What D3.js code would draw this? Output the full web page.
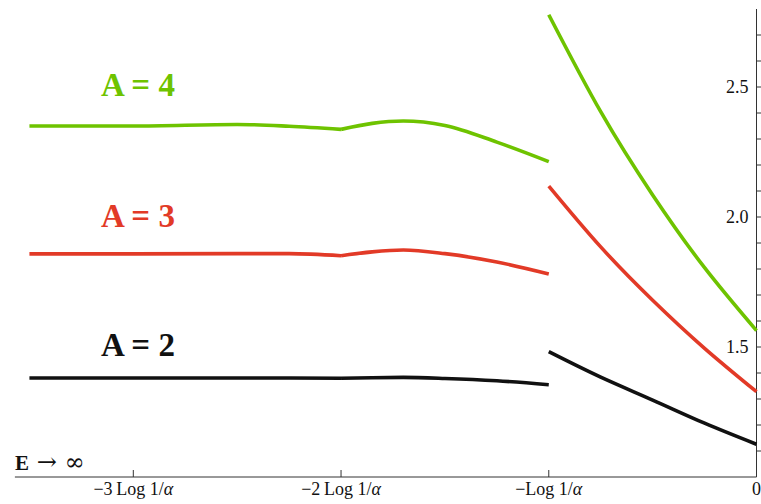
<!DOCTYPE html>
<html>
<head>
<meta charset="utf-8">
<script src="https://cdn.jsdelivr.net/npm/d3@7"></script>
<style>
  body { margin: 0; background: #fff; }
  svg { display: block; }
</style>
</head>
<body>
<svg id="chart"></svg>
<script>
// x in units of Log 1/alpha, y is the plotted value
const xTicks = [-3, -2, -1, 0]
const xTickNames = ["\u22123\u2009Log 1/", "\u22122\u2009Log 1/", "\u2212Log 1/", "0"]
const yMajor = [1.5, 2.0, 2.5]
const yMinor = [1.1, 1.2, 1.3, 1.4, 1.6, 1.7, 1.8, 1.9, 2.1, 2.2, 2.3, 2.4, 2.6, 2.7]

const seriesNames = ["A = 2", "A = 3", "A = 4"]

// flat part, -3.5 .. -2
const flatX = [-3.5, -3.0, -2.5, -2.25, -2.0]
const flatA2 = [1.381, 1.381, 1.381, 1.381, 1.380]
const flatA3 = [1.858, 1.858, 1.859, 1.859, 1.851]
const flatA4 = [2.350, 2.350, 2.356, 2.349, 2.337]

// hump part, -2 .. -1
const humpX = [-2.0, -1.85, -1.7, -1.5, -1.25, -1.0]
const humpA2 = [1.380, 1.382, 1.383, 1.379, 1.370, 1.355]
const humpA3 = [1.851, 1.866, 1.873, 1.859, 1.827, 1.781]
const humpA4 = [2.337, 2.360, 2.369, 2.352, 2.288, 2.213]

// branch after the jump, -1 .. 0
const branchX = [-1.0, -0.75, -0.5, -0.25, 0]
const branchA2 = [1.482, 1.384, 1.296, 1.207, 1.126]
const branchA3 = [2.119, 1.885, 1.680, 1.495, 1.328]
const branchA4 = [2.778, 2.405, 2.085, 1.805, 1.563]

const colors = ["#111111", "#e23a27", "#6ec300"]

const W = 761, H = 504
const serif = "\"Liberation Serif\", \"Times New Roman\", serif"

const svg = d3.select("#chart").attr("width", W).attr("height", H)

const x = d3.scaleLinear().domain([-3, 0]).range([133.3, 756.5])
const y = d3.scaleLinear().domain([1.0, 2.8]).range([477, 9])

// axes
const xAxisY = y(1.0)
svg.append("line")
  .attr("x1", x(-3.57)).attr("x2", x(0))
  .attr("y1", xAxisY).attr("y2", xAxisY)
  .attr("stroke", "#333").attr("stroke-width", 1)

svg.append("line")
  .attr("x1", x(0)).attr("x2", x(0))
  .attr("y1", y(2.8)).attr("y2", y(1.0))
  .attr("stroke", "#333").attr("stroke-width", 1)

svg.selectAll(".xtick")
  .data(xTicks.slice(0, 3))
  .join("line")
    .attr("x1", d => x(d)).attr("x2", d => x(d))
    .attr("y1", xAxisY).attr("y2", xAxisY - 7)
    .attr("stroke", "#333")

const xLab = svg.selectAll(".xlab")
  .data(xTicks)
  .join("text")
    .attr("x", d => x(d))
    .attr("y", 495)
    .attr("text-anchor", "middle")
    .style("font-family", serif)
    .attr("font-size", 18)
    .attr("fill", "#111")

xLab.append("tspan").text((d, i) => xTickNames[i])
xLab.filter(d => d !== 0).append("tspan")
  .attr("font-style", "italic")
  .text("\u03b1")

svg.selectAll(".ytick")
  .data(yMajor.concat(yMinor))
  .join("line")
    .attr("x1", x(0)).attr("x2", x(0) + 6)
    .attr("y1", d => y(d)).attr("y2", d => y(d))
    .attr("stroke", "#333")

svg.selectAll(".ylab")
  .data(yMajor)
  .join("text")
    .attr("x", x(0) - 8)
    .attr("y", d => y(d))
    .attr("dy", "0.35em")
    .attr("text-anchor", "end")
    .style("font-family", serif)
    .attr("font-size", 18)
    .attr("fill", "#111")
    .text(d => d3.format(".1f")(d))

// E -> infinity
const eLab = svg.append("text")
  .attr("x", 15).attr("y", 470)
  .style("font-family", serif)
  .attr("font-size", 21)
  .attr("fill", "#111")
eLab.append("tspan").attr("font-weight", "bold").text("E")
eLab.append("tspan")
  .style("font-family", "\"DejaVu Serif\", serif")
  .attr("font-size", 24)
  .text(" \u2192 \u221e")

// curves
const line = d3.line()
  .x(d => x(d[0]))
  .y(d => y(d[1]))

const pieces = [
  [flatA2, humpA2, branchA2],
  [flatA3, humpA3, branchA3],
  [flatA4, humpA4, branchA4]
]

pieces.forEach((p, i) => {
  const parts = [d3.zip(flatX, p[0]), d3.zip(humpX, p[1]), d3.zip(branchX, p[2])]
  parts.forEach((pts, j) => {
    svg.append("path")
      .attr("d", line.curve(j === 2 ? d3.curveNatural : d3.curveMonotoneX)(pts))
      .attr("fill", "none")
      .attr("stroke", colors[i])
      .attr("stroke-width", 3.6)
  })
})

// series labels
const labelY = [1.465, 1.962, 2.465]
svg.selectAll(".alab")
  .data(seriesNames)
  .join("text")
    .attr("x", x(-3.155))
    .attr("y", (d, i) => y(labelY[i]))
    .style("font-family", serif)
    .attr("font-weight", "bold")
    .attr("font-size", 33)
    .attr("fill", (d, i) => colors[i])
    .text(d => d)
</script>
</body>
</html>
